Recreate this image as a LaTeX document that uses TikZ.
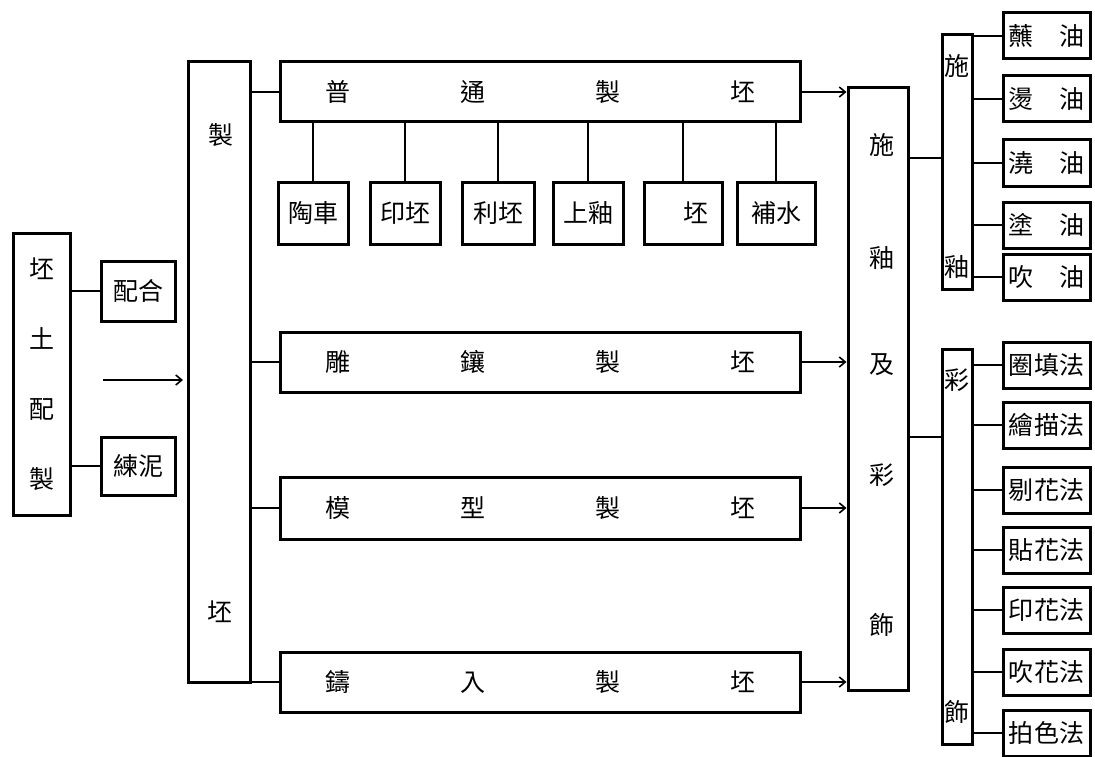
\documentclass[tikz,border=0pt]{standalone}
\usepackage{fontspec}
\newfontfamily\cjk{Noto Sans CJK TC}
\usetikzlibrary{positioning,arrows.meta}

\begin{document}
\begin{tikzpicture}[x=1pt,y=-1pt,
    pbox/.style={draw,line width=3pt,inner sep=0pt,font=\cjk\fontsize{25}{28}\selectfont},
    rowbox/.style={pbox,minimum width=520pt,minimum height=60pt,text width=430pt},
    subbox/.style={pbox,minimum height=62pt},
    leafbox/.style={pbox,minimum width=87pt,minimum height=46pt,text width=76pt},
    glyph/.style={font=\cjk\fontsize{25}{28}\selectfont,inner sep=0pt},
    link/.style={line width=1.5pt},
    flow/.style={-{Straight Barb[length=6pt,width=10pt]},line width=1.6pt}]
  \useasboundingbox (0,0) rectangle (1095,757);

  % left part
  \node[pbox,minimum width=57pt,minimum height=282pt,align=center] (ptpz) at (41.5,374)
      {坯\\[42pt]土\\[42pt]配\\[42pt]製};
  \node[pbox,minimum width=74pt,minimum height=60pt] (ph) at (138,291) {配合};
  \node[pbox,minimum width=74pt,minimum height=58pt] (ln) at (138,466) {練泥};
  \draw[link] (ph.west) -- (ph.west -| ptpz.east);
  \draw[link] (ln.west) -- (ln.west -| ptpz.east);
  \coordinate (a1) at (103,380);
  \coordinate (a2) at (183,380);
  \draw[flow] (a1) -- (a2);

  % 製坯
  \node[pbox,minimum width=62pt,minimum height=620pt] (zp) at (219,372) {};
  \node[glyph] (zp1) at (221,135) {製};
  \node[glyph] (zp2) at (220,612) {坯};

  % rows
  \node[rowbox] (pt) at (540,92)  {普\hfill 通\hfill 製\hfill 坯};
  \node[rowbox] (dx) at (540,362) {雕\hfill 鑲\hfill 製\hfill 坯};
  \node[rowbox,minimum height=62pt] (mx) at (540,508) {模\hfill 型\hfill 製\hfill 坯};
  \node[rowbox] (zr) at (540,682) {鑄\hfill 入\hfill 製\hfill 坯};

  \foreach \n/\t/\x/\w in {tc/陶車/313/70,yp/印坯/405/70,lp/利坯/498/72,
                           sz/上釉/588/70,kp/\hphantom{坯}坯/683/78,bs/補水/776/78}{
    \node[subbox,minimum width=\w pt] (\n) at (\x,213) {\t};
    \draw[link] (\n.north) -- (\n.north |- pt.south);
  }

  % 施釉及彩飾
  \node[pbox,minimum width=60pt,minimum height=602pt] (sy) at (878,389) {};
  \foreach \c/\y [count=\i] in {施/145,釉/258,及/365,彩/475,飾/625}
    \node[glyph] (sy\i) at (882,\y) {\c};

  \foreach \r in {pt,dx,mx,zr}{
    \draw[link] (\r.west) -- (\r.west -| zp.east);
    \draw[flow] (\r.east) -- (\r.east -| sy.west);
  }

  % 施釉
  \node[pbox,minimum width=30pt,minimum height=255pt] (sg) at (957,162) {};
  \node[glyph] (sg1) at (957,66) {施};
  \node[glyph] (sg2) at (957,267) {釉};
  \draw[link] ([yshift=4pt]sg.west) -- ([yshift=4pt]sg.west -| sy.east);
  \foreach \n/\t/\y in {zj/蘸\hfill 油/36,tj/燙\hfill 油/99,jj/澆\hfill 油/163,
                        tu/塗\hfill 油/225,cj/吹\hfill 油/277}{
    \node[leafbox] (\n) at (1046.5,\y) {\t};
    \draw[link] (\n.west) -- (\n.west -| sg.east);
  }

  % 彩飾
  \node[pbox,minimum width=30pt,minimum height=395pt] (cs) at (957,547) {};
  \node[glyph] (cs1) at (957,380) {彩};
  \node[glyph] (cs2) at (957,712) {飾};
  \draw[link] ([yshift=110pt]cs.west) -- ([yshift=110pt]cs.west -| sy.east);
  \foreach \n/\t/\y in {qt/圈\hfill 填\hfill 法/365,hm/繪\hfill 描\hfill 法/425,
                        th/剔\hfill 花\hfill 法/490,zh/貼\hfill 花\hfill 法/550,
                        yh/印\hfill 花\hfill 法/610,ch/吹\hfill 花\hfill 法/672,
                        ps/拍\hfill 色\hfill 法/733}{
    \node[leafbox] (\n) at (1046.5,\y) {\t};
    \draw[link] (\n.west) -- (\n.west -| cs.east);
  }
\end{tikzpicture}
\end{document}
